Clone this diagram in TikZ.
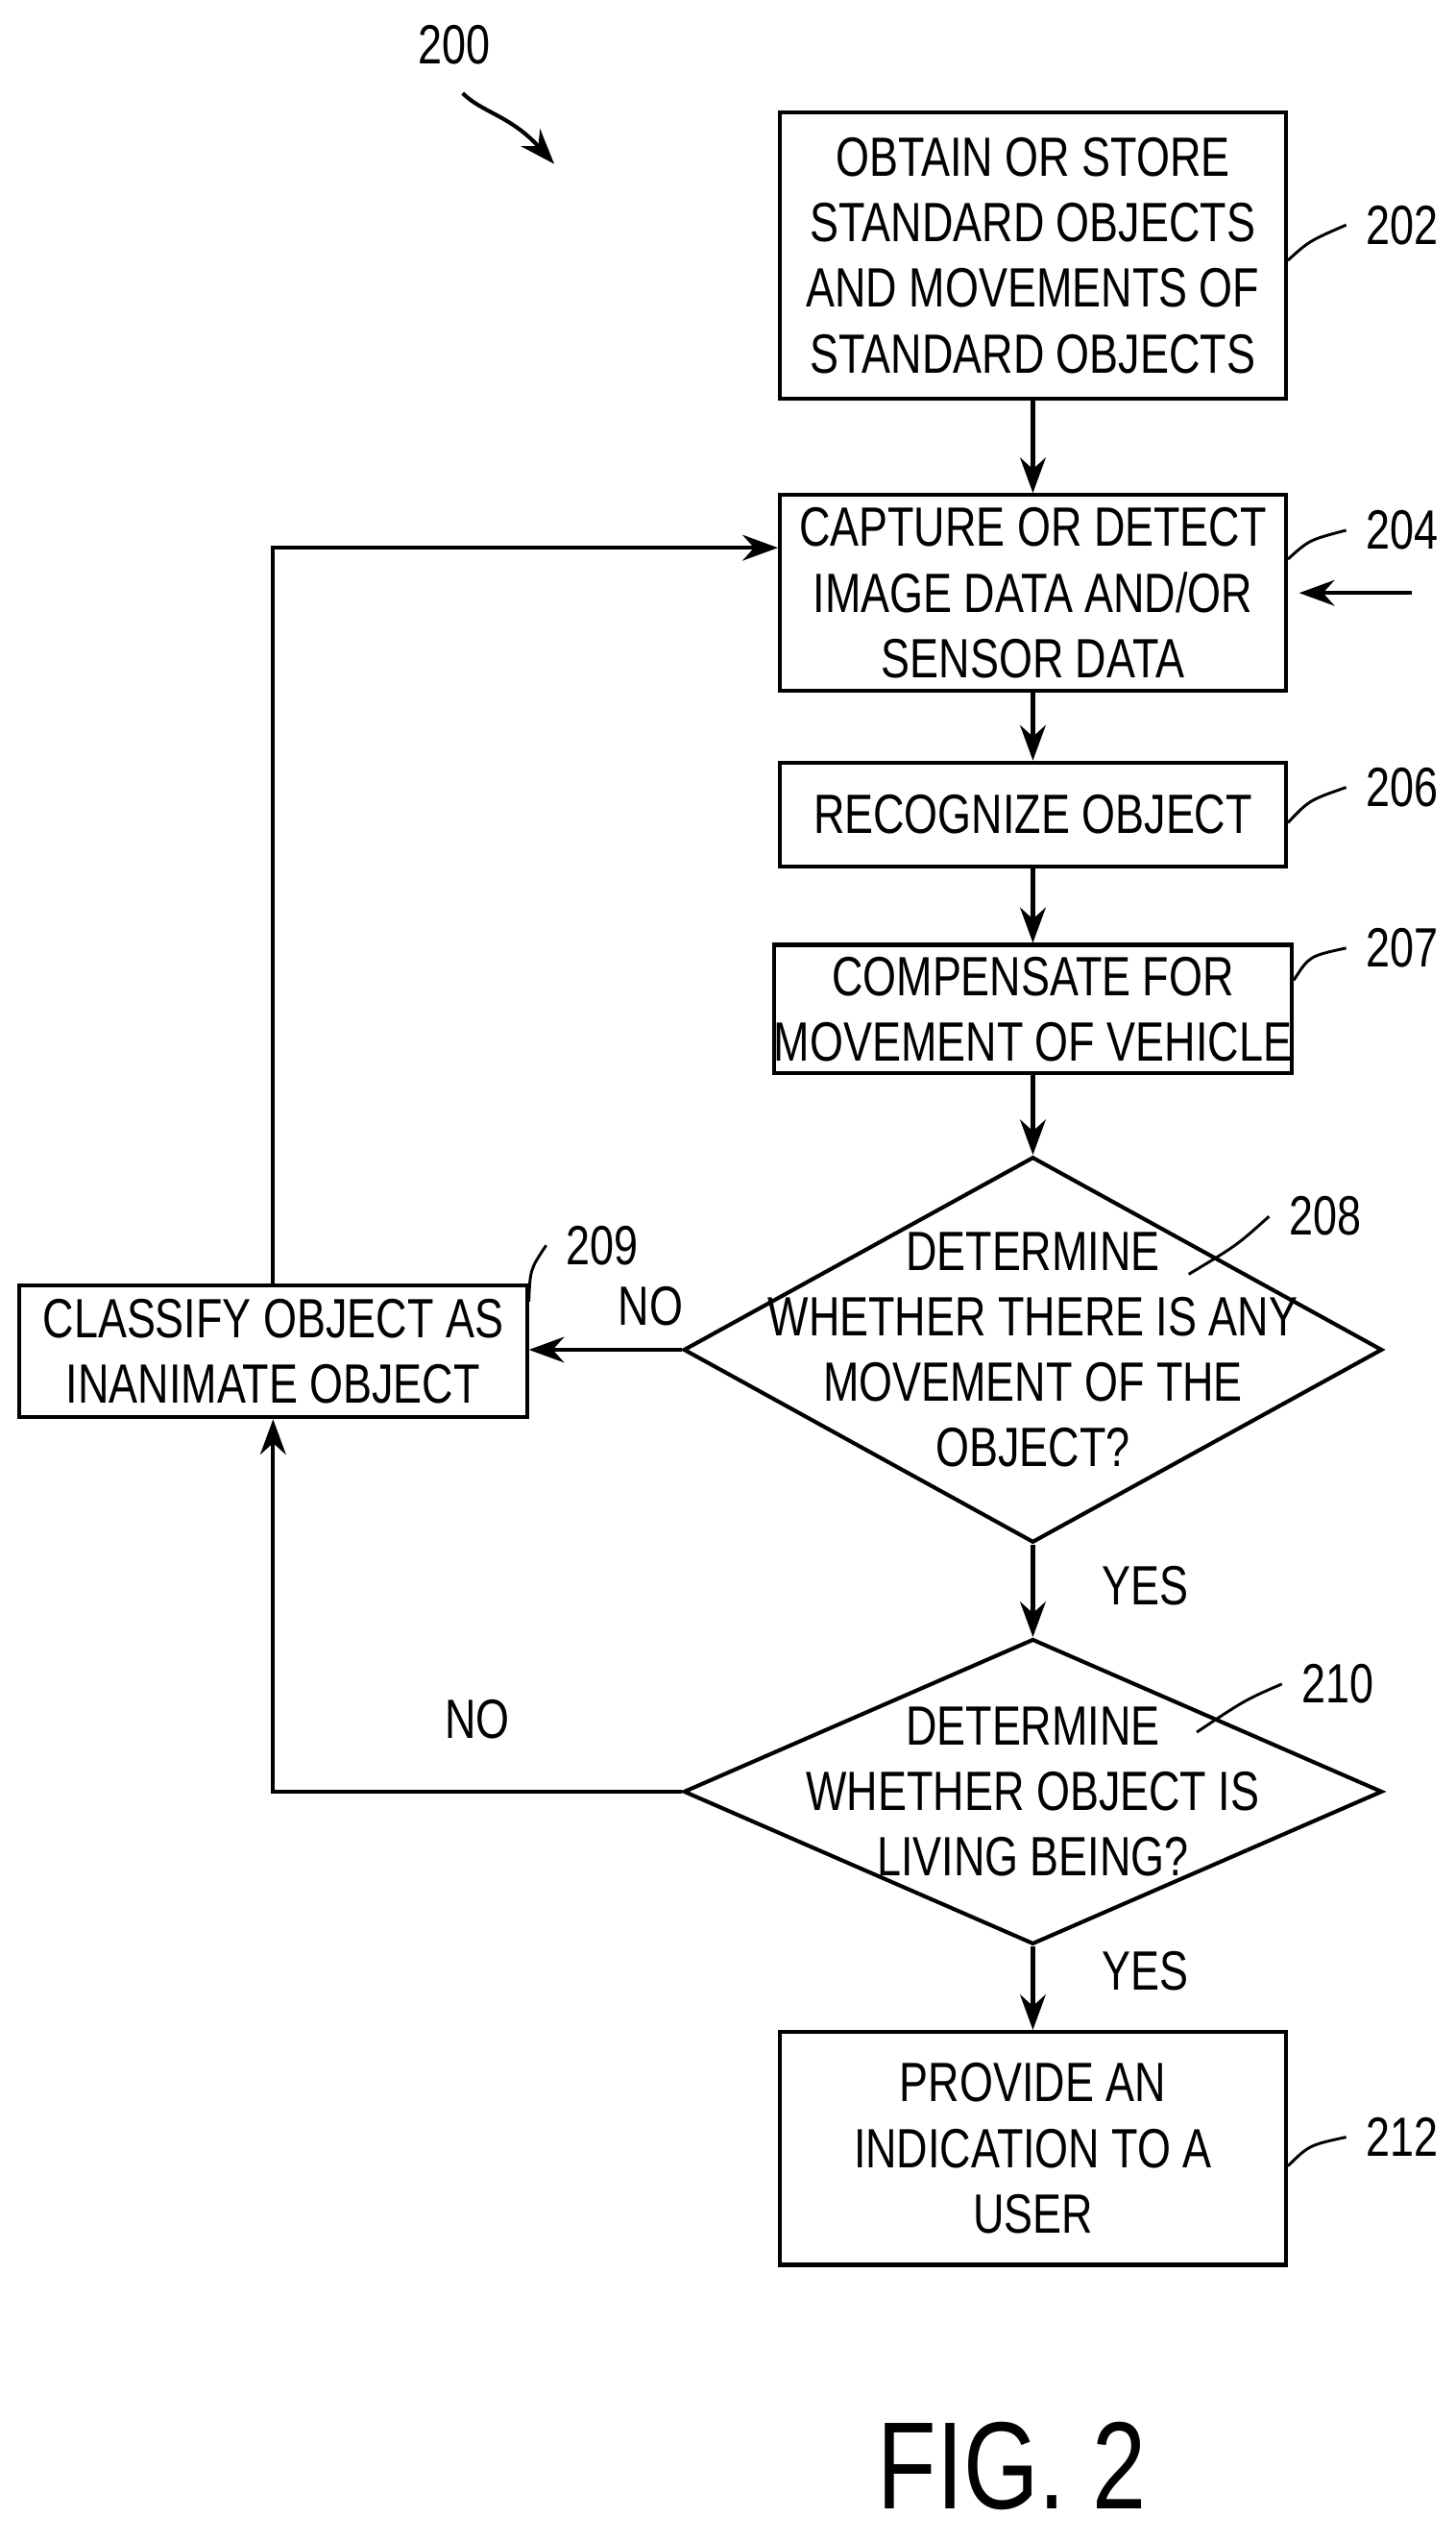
\documentclass[tikz,border=0pt]{standalone}
\usepackage{fontspec}
\setsansfont[FakeStretch=0.78]{Liberation Sans}
\usetikzlibrary{arrows.meta, shapes.geometric}

\begin{document}
\begin{tikzpicture}
    [font=\sffamily\fontsize{9.8}{11.6}\selectfont, x=.1mm, y=-.1mm,
     >={Stealth[length=2.2mm, width=1.6mm]},
     box/.style={draw, line width=.7pt, align=center, inner sep=0pt},
     choice/.style={draw, line width=.7pt, diamond, inner sep=0pt},
     flow/.style={->, line width=.7pt},
     ref/.style={line width=.5pt},
    ]
    \useasboundingbox (0, 0) rectangle (906, 1582);

    % Steps
    \node[box, minimum width=31.5mm, minimum height=17.8mm] (obtain) at (643, 159)
        {OBTAIN OR STORE\\STANDARD OBJECTS\\AND MOVEMENTS OF\\STANDARD OBJECTS};
    \node[box, minimum width=31.5mm, minimum height=12.2mm] (capture) at (643, 369)
        {CAPTURE OR DETECT\\IMAGE DATA AND/OR\\SENSOR DATA};
    \node[box, minimum width=31.5mm, minimum height=6.5mm] (recognize) at (643, 507)
        {RECOGNIZE OBJECT};
    \node[box, minimum width=31.5mm, minimum height=8mm] (compensate) at (643, 628)
        {COMPENSATE FOR\\MOVEMENT OF VEHICLE};
    \node[choice, minimum width=43.5mm, minimum height=24mm] (moving) at (643, 840) {};
    \node[align=center] (movingtext) at (moving) {DETERMINE\\WHETHER THERE IS ANY\\MOVEMENT OF THE\\OBJECT?};
    \node[box, minimum width=31.6mm, minimum height=8.2mm] (inanimate) at (170, 841)
        {CLASSIFY OBJECT AS\\INANIMATE OBJECT};
    \node[choice, minimum width=43.5mm, minimum height=19mm] (living) at (643, 1115) {};
    \node[align=center] (livingtext) at (living) {DETERMINE\\WHETHER OBJECT IS\\LIVING BEING?};
    \node[box, minimum width=31.5mm, minimum height=14.5mm] (indicate) at (643, 1337)
        {PROVIDE AN\\INDICATION TO A\\USER};

    % Flow
    \draw[flow] (obtain) -- (capture);
    \draw[flow] (capture) -- (recognize);
    \draw[flow] (recognize) -- (compensate);
    \draw[flow] (compensate) -- (moving);
    \draw[flow] (moving) -- node[pos=.45, right=3mm] {YES} (living);
    \draw[flow] (living) -- node[pos=.3, right=3mm] {YES} (indicate);
    \draw[flow] (moving.west) -- (inanimate.east |- moving.west);
    \node (no1) at (405, 813) {NO};
    \draw[flow] (living.west) -| node[pos=.25, above=2mm] {NO} (inanimate.south);
    \draw[flow] (inanimate.north) |- ([yshift=8] capture.west);
    \coordinate (feed) at ([xshift=22] capture.east);
    \draw[flow] (feed) -- ([xshift=2] capture.east);

    % Reference numerals
    \node (n200) at (283, 28) {200};
    \draw[flow] (288, 58) .. controls (300, 70) and (318, 72) .. (345, 102);
    \node[anchor=west] (n202) at (838, 140) {202};
    \draw[ref] (obtain.east |- 0, 162) .. controls (815, 150) .. (n202.west);
    \node[anchor=west] (n204) at (838, 330) {204};
    \draw[ref] (capture.east |- 0, 348) .. controls (815, 336) .. (n204.west);
    \node[anchor=west] (n206) at (838, 490) {206};
    \draw[ref] (recognize.east |- 0, 512) .. controls (815, 498) .. (n206.west);
    \node[anchor=west] (n207) at (838, 590) {207};
    \draw[ref] (compensate.east |- 0, 610) .. controls (815, 595) .. (n207.west);
    \node[anchor=west] (n208) at (790, 757) {208};
    \draw[ref] (740, 793) .. controls (770, 775) .. (n208.west);
    \node[anchor=west] (n209) at (340, 775) {209};
    \draw[ref] (inanimate.east |- 0, 810) .. controls (330, 790) .. (n209.west);
    \node[anchor=west] (n210) at (798, 1048) {210};
    \draw[ref] (745, 1078) .. controls (775, 1058) .. (n210.west);
    \node[anchor=west] (n212) at (838, 1330) {212};
    \draw[ref] (indicate.east |- 0, 1348) .. controls (815, 1335) .. (n212.west);

    \node[font=\sffamily\fontsize{22}{26}\selectfont] (fig) at (630, 1535) {FIG. 2};
\end{tikzpicture}
\end{document}
